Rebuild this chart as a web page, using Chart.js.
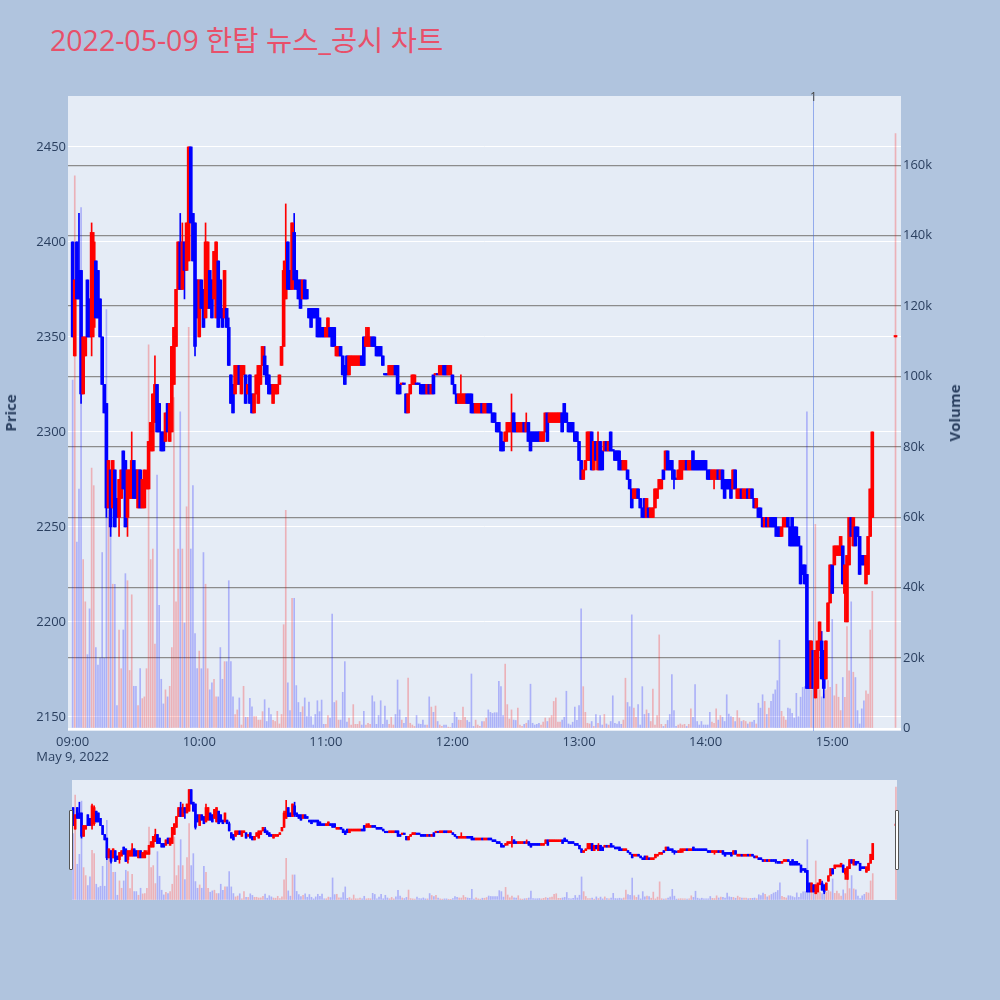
<!DOCTYPE html>
<html>
<head>
<meta charset="utf-8">
<script src="https://cdn.jsdelivr.net/npm/chart.js@4.4.1/dist/chart.umd.min.js"></script>
<style>
  html, body { margin: 0; padding: 0; background: #b0c4de; }
  #wrap { position: relative; width: 1000px; height: 1000px; overflow: hidden;
          font-family: "Open Sans", "Noto Sans CJK KR", sans-serif; }
  #title { position: absolute; left: 50px; top: 23px; line-height: 34px; font-size: 28.5px;
           color: #e8506a; white-space: nowrap; }
  #main { position: absolute; left: 0; top: 0; }
  #slider { position: absolute; left: 72px; top: 780px; background: #e5ecf6; }
  .ytitle { position: absolute; font-weight: bold; font-size: 15px; line-height: 18px; color: #2a3f5f;
            white-space: nowrap; transform: translate(-50%, -50%) rotate(-90deg); }
  .handle { position: absolute; top: 810px; width: 2px; height: 58px; background: #fff;
            border: 1px solid #555; border-radius: 1px; }
</style>
</head>
<body>
<div id="wrap">
  <div id="title">2022-05-09 한탑 뉴스_공시 차트</div>
  <canvas id="main" width="1000" height="772"></canvas>
  <div class="ytitle" style="left:10px; top:413px;">Price</div>
  <div class="ytitle" style="left:954px; top:413px;">Volume</div>
  <canvas id="slider" width="825" height="120"></canvas>
  <div class="handle" style="left:69px;"></div>
  <div class="handle" style="left:895px;"></div>
</div>
<script>
// ── Data: [open, high, low, close] per minute from 09:00 ─────────
const candles0900 = [
  [2400,2400,2350,2350],[2340,2380,2340,2380],[2400,2400,2370,2370],[2385,2415,2370,2370],[2385,2385,2315,2320],
  [2320,2350,2320,2350],[2340,2350,2340,2350],[2380,2380,2350,2350],[2370,2370,2350,2350],[2350,2410,2340,2405],
  [2355,2405,2350,2400],[2390,2390,2360,2360],[2385,2385,2360,2360],[2370,2370,2350,2350],[2350,2350,2325,2325],
  [2325,2325,2310,2310],[2315,2315,2255,2260],[2260,2285,2260,2285],[2280,2280,2245,2250],[2260,2285,2260,2285],
  [2280,2280,2250,2250],[2265,2265,2255,2255],[2255,2275,2245,2275],[2265,2280,2265,2280],[2290,2290,2270,2270],
  [2285,2285,2250,2250],[2255,2280,2245,2280],[2265,2280,2265,2280],[2265,2300,2265,2285],[2285,2285,2265,2265],
  [2280,2280,2265,2265],[2260,2280,2260,2280],[2280,2280,2260,2260],[2260,2275,2260,2275],[2260,2280,2260,2280],
  [2270,2280,2270,2275],[2270,2295,2270,2295],[2290,2305,2290,2305],[2290,2320,2290,2320],[2305,2340,2305,2325],
  [2325,2325,2300,2300],[2315,2315,2300,2300],[2300,2300,2290,2290],[2300,2300,2290,2290],[2295,2310,2295,2310],
  [2315,2315,2300,2300],[2295,2315,2295,2315],[2300,2345,2300,2345],[2325,2355,2325,2355],[2345,2375,2345,2375],
  [2375,2400,2375,2400],[2400,2415,2375,2375],[2375,2410,2375,2400],[2400,2400,2370,2385],[2385,2410,2385,2410],
  [2390,2450,2390,2450],[2450,2450,2410,2410],[2415,2415,2390,2390],[2410,2410,2340,2345],[2380,2380,2360,2360]
];
const candles1000 = [
  [2350,2380,2350,2380],[2380,2380,2365,2365],[2375,2375,2355,2355],[2360,2410,2360,2400],[2365,2400,2365,2400],
  [2385,2385,2365,2365],[2380,2380,2360,2360],[2370,2395,2370,2395],[2360,2400,2360,2400],[2390,2390,2355,2355],
  [2380,2380,2360,2360],[2365,2365,2355,2355],[2360,2385,2360,2385],[2365,2365,2355,2355],[2355,2360,2335,2335],
  [2330,2330,2315,2315],[2325,2325,2310,2310],[2320,2335,2320,2335],[2325,2335,2325,2335],[2335,2335,2325,2325],
  [2320,2335,2320,2335],[2330,2335,2330,2335],[2330,2330,2315,2315],[2320,2325,2320,2325],[2330,2330,2315,2315],
  [2320,2320,2310,2310],[2310,2320,2310,2320],[2320,2330,2320,2330],[2315,2335,2315,2335],[2325,2335,2325,2335],
  [2335,2345,2335,2345],[2340,2345,2330,2330],[2335,2335,2325,2325],[2330,2330,2320,2320],[2325,2325,2320,2320],
  [2315,2325,2315,2325],[2320,2325,2320,2325],[2320,2325,2320,2325],[2325,2330,2325,2330],[2335,2345,2335,2345],
  [2345,2390,2345,2385],[2370,2420,2370,2390],[2400,2400,2375,2375],[2385,2385,2375,2375],[2375,2410,2375,2410],
  [2405,2415,2375,2380],[2385,2385,2375,2375],[2380,2380,2370,2370],[2380,2380,2365,2365],[2370,2380,2370,2380],
  [2380,2380,2370,2370],[2375,2375,2370,2370],[2365,2365,2360,2360],[2365,2365,2355,2355],[2365,2365,2360,2360],
  [2365,2365,2360,2360],[2365,2365,2350,2350],[2360,2360,2350,2350],[2355,2355,2350,2350],[2355,2355,2350,2350]
];
const candles1100 = [
  [2350,2355,2350,2355],[2350,2360,2350,2360],[2355,2355,2350,2350],[2355,2355,2345,2345],[2355,2355,2345,2345],
  [2340,2345,2340,2345],[2340,2345,2340,2345],[2345,2345,2340,2340],[2340,2340,2330,2330],[2335,2335,2325,2325],
  [2340,2340,2330,2330],[2330,2340,2330,2340],[2335,2340,2335,2340],[2335,2340,2335,2340],[2335,2340,2335,2340],
  [2335,2340,2335,2340],[2335,2340,2335,2340],[2340,2340,2335,2335],[2350,2350,2335,2335],[2345,2355,2345,2350],
  [2345,2355,2345,2355],[2345,2350,2345,2350],[2350,2350,2345,2345],[2350,2350,2345,2345],[2345,2345,2340,2340],
  [2345,2345,2340,2340],[2345,2345,2340,2340],[2340,2340,2335,2335],[2330,2330,2330,2330],[2330,2330,2330,2330],
  [2330,2335,2330,2335],[2330,2335,2330,2335],[2330,2335,2330,2335],[2335,2335,2330,2330],[2335,2335,2320,2320],
  [2325,2325,2320,2320],[2325,2325,2325,2325],[2325,2325,2325,2325],[2320,2320,2310,2310],[2310,2320,2310,2320],
  [2320,2325,2320,2325],[2325,2330,2325,2330],[2325,2330,2325,2330],[2325,2325,2325,2325],[2325,2325,2325,2325],
  [2325,2325,2320,2320],[2325,2325,2320,2320],[2325,2325,2320,2320],[2320,2325,2320,2325],[2325,2325,2320,2320],
  [2320,2325,2320,2325],[2330,2330,2320,2320],[2330,2330,2330,2330],[2330,2330,2330,2330],[2330,2335,2330,2335],
  [2330,2335,2330,2335],[2335,2335,2330,2330],[2335,2335,2330,2330],[2330,2335,2330,2335],[2330,2335,2330,2335]
];
const candles1200 = [
  [2330,2330,2325,2325],[2325,2325,2320,2320],[2320,2320,2315,2315],[2315,2320,2315,2320],[2315,2330,2315,2320],
  [2315,2320,2315,2320],[2315,2320,2315,2320],[2320,2320,2315,2315],[2320,2320,2315,2315],[2320,2320,2310,2310],
  [2315,2315,2310,2310],[2310,2315,2310,2315],[2310,2315,2310,2315],[2310,2315,2310,2315],[2315,2315,2310,2310],
  [2310,2315,2310,2315],[2310,2315,2310,2315],[2315,2315,2310,2310],[2315,2315,2310,2310],[2310,2310,2305,2305],
  [2310,2310,2305,2305],[2305,2305,2300,2300],[2305,2305,2300,2300],[2300,2300,2290,2290],[2295,2295,2290,2290],
  [2295,2300,2295,2300],[2300,2305,2295,2305],[2300,2305,2300,2305],[2300,2320,2290,2305],[2310,2310,2300,2300],
  [2305,2305,2300,2300],[2300,2305,2300,2305],[2300,2305,2300,2305],[2300,2305,2300,2305],[2305,2305,2300,2300],
  [2300,2310,2300,2305],[2305,2305,2295,2295],[2300,2300,2290,2290],[2300,2300,2295,2295],[2300,2300,2295,2295],
  [2300,2300,2295,2295],[2300,2300,2295,2295],[2295,2300,2295,2300],[2295,2300,2295,2300],[2300,2310,2300,2310],
  [2310,2310,2295,2295],[2305,2310,2305,2310],[2305,2310,2305,2310],[2305,2310,2305,2310],[2305,2310,2305,2310],
  [2305,2310,2305,2310],[2305,2310,2305,2310],[2310,2310,2300,2300],[2315,2315,2305,2305],[2310,2310,2305,2305],
  [2305,2305,2300,2300],[2305,2305,2300,2300],[2305,2305,2300,2300],[2300,2300,2295,2295],[2300,2300,2295,2295]
];
const candles1300 = [
  [2295,2295,2285,2285],[2285,2285,2275,2275],[2275,2280,2275,2280],[2280,2285,2280,2285],[2285,2300,2285,2300],
  [2285,2300,2285,2300],[2300,2300,2280,2280],[2280,2295,2280,2295],[2295,2295,2285,2285],[2280,2300,2280,2295],
  [2295,2295,2280,2280],[2290,2290,2280,2280],[2290,2295,2290,2295],[2295,2295,2290,2290],[2290,2295,2290,2295],
  [2300,2300,2290,2290],[2290,2290,2290,2290],[2290,2290,2285,2285],[2290,2290,2285,2285],[2290,2290,2280,2280],
  [2285,2285,2280,2280],[2280,2285,2280,2285],[2280,2285,2280,2285],[2280,2280,2275,2275],[2275,2275,2270,2270],
  [2270,2270,2260,2260],[2265,2270,2265,2270],[2265,2270,2265,2270],[2270,2270,2265,2265],[2265,2265,2260,2260],
  [2260,2260,2255,2255],[2265,2265,2255,2255],[2255,2265,2255,2265],[2260,2260,2255,2255],[2255,2260,2255,2260],
  [2255,2260,2255,2260],[2260,2270,2260,2270],[2265,2270,2265,2270],[2270,2275,2270,2275],[2270,2275,2270,2275],
  [2280,2280,2275,2275],[2280,2290,2280,2290],[2290,2290,2280,2280],[2285,2285,2280,2280],[2285,2285,2275,2280],
  [2280,2280,2270,2275],[2275,2275,2275,2275],[2275,2280,2275,2280],[2275,2285,2275,2285],[2280,2285,2275,2285],
  [2280,2285,2280,2285],[2285,2285,2280,2280],[2280,2285,2280,2285],[2280,2285,2280,2285],[2290,2290,2280,2280],
  [2285,2285,2280,2280],[2285,2285,2280,2280],[2285,2285,2280,2280],[2285,2285,2280,2280],[2285,2285,2280,2280]
];
const candles1400 = [
  [2285,2285,2280,2280],[2280,2280,2275,2275],[2280,2280,2275,2275],[2275,2280,2275,2280],[2275,2280,2270,2280],
  [2275,2280,2275,2280],[2280,2280,2275,2275],[2275,2280,2275,2280],[2280,2280,2270,2270],[2275,2275,2265,2265],
  [2275,2275,2270,2270],[2275,2275,2270,2270],[2275,2275,2265,2265],[2270,2280,2270,2280],[2280,2280,2270,2270],
  [2265,2270,2265,2270],[2265,2270,2265,2270],[2270,2270,2265,2265],[2265,2270,2265,2270],[2265,2270,2265,2270],
  [2270,2270,2265,2265],[2265,2270,2265,2270],[2270,2270,2265,2265],[2265,2265,2260,2260],[2260,2265,2260,2265],
  [2260,2260,2255,2255],[2260,2260,2255,2255],[2255,2255,2250,2250],[2250,2255,2250,2255],[2255,2255,2250,2250],
  [2250,2255,2250,2255],[2255,2255,2250,2250],[2255,2255,2250,2250],[2255,2255,2245,2250],[2250,2250,2245,2245],
  [2250,2250,2245,2245],[2245,2250,2245,2250],[2250,2255,2250,2255],[2250,2255,2250,2255],[2255,2255,2250,2250],
  [2250,2250,2240,2240],[2255,2255,2240,2240],[2250,2250,2240,2240],[2250,2250,2240,2240],[2245,2245,2240,2240],
  [2240,2240,2220,2220],[2230,2230,2225,2225],[2230,2230,2220,2220],[2225,2225,2165,2165],[2190,2190,2165,2165],
  [2165,2190,2165,2190],[2185,2185,2165,2165],[2160,2185,2160,2185],[2165,2190,2165,2190],[2185,2200,2185,2200],
  [2190,2195,2170,2170],[2185,2185,2160,2165],[2170,2190,2170,2190],[2195,2210,2195,2210],[2210,2230,2210,2230]
];
const candles1500 = [
  [2230,2230,2215,2215],[2230,2240,2230,2240],[2235,2240,2235,2240],[2235,2240,2235,2240],[2235,2245,2235,2245],
  [2240,2240,2220,2220],[2215,2230,2200,2230],[2200,2235,2200,2235],[2230,2255,2230,2255],[2255,2255,2245,2245],
  [2240,2255,2240,2255],[2250,2250,2240,2240],[2250,2250,2245,2245],[2245,2245,2225,2225],[2235,2235,2230,2230],
  [2235,2235,2230,2230],[2220,2235,2220,2235],[2225,2245,2225,2245],[2245,2270,2245,2270],[2255,2300,2255,2300]
];
// 15:30 closing single-price auction
const closingMinute = 390;
const closingCandle = [2350, 2350, 2350, 2350];

// volume per minute, thousands of shares
const vol0900 = [
  99,157,53,68,148,48,36,21,34,74, 69,23,18,20,50,20,119,62,60,41,
  41,6.5,28,17,28,44,42,16.5,38,12, 12,6.5,17,8.5,9,17,109,48,51,24,
  72,35,14,7,11,9,12,23,94,36, 51,90,51,30,63,114,51,69,27,17
];
const vol1000 = [
  22,17,50,41,17,11,13,14,9,9, 23,14,19,19,42,19,9,4,5.3,8.7,
  1,12,3.2,3.2,8.6,6.2,3.4,3.4,2.4,2.4, 4.8,8.2,2,5.8,4,2.3,2,4.9,1.3,4,
  29.5,62,13,5.1,37,37,12.2,7.4,4.6,6.2, 8.7,3.4,7.5,3.4,1,4,7.9,4.8,8.1,1.2
];
const vol1100 = [
  1.2,3.7,3,32.5,7.4,7.9,2.4,2.4,10.3,19, 1.8,3,1,6.8,1.2,1.2,2,1,4.9,1,
  1.5,1.2,9.3,7.6,1.2,3.7,7.9,1.2,6.4,2.4, 1.2,3.2,1,4,13.8,5.3,2.4,1.5,3.2,14.3,
  1.5,1,0.6,3.7,1.3,1.2,2.4,1,1,9, 6.1,4.6,6.4,2,1,0.6,1,1,0.4,0.3
];
const vol1200 = [
  1.5,4.6,3.2,2.4,2.3,6.1,3.2,2.3,1.8,15.5, 0.6,2.4,1,0.6,2,2,3,5.3,4.6,4.3,
  4.5,4.5,13.4,11.9,3.7,18.3,6.8,2.7,5.3,2.4, 2.3,5.8,1,0.6,1.2,1.5,2.3,12.6,1.5,1,
  1.2,1.5,1,1.8,3,2,3,3.7,7.7,8.7, 1.8,1.8,2.4,3.2,10.6,1.3,1,1.8,6.1,2.3
];
const vol1300 = [
  6.5,34,11.9,4.6,1.5,1.3,2,0.6,4,1.5, 3.7,1,4,1.3,1,2,9.3,1.5,1.3,2,
  1.2,2.4,14.3,7.4,6.2,32.3,5.8,3.2,6.8,1, 11.9,4,5.3,4.3,2,11.2,1,3.7,26.6,1.2,
  0.6,1.2,2.3,4,15.3,5.1,0.6,1,1.3,1, 1.2,0.6,1.2,5.6,3.2,12.5,2,1,2,1
];
const vol1400 = [
  1,1,4.6,1.8,1.5,5.6,2.4,3.7,3.2,2, 9.6,4.1,3.4,3.2,2,5.1,3,2,2.3,2,
  1.3,1.8,1.8,2.3,1.3,7.2,5.8,9.6,7.7,4, 5.8,7.7,9.8,11,13.6,25.1,4.9,3.4,2.4,5.8,
  5.6,4.3,3,10,3.4,8.9,11.7,11.9,90,12, 11,12,58,12.6,11,9,9.8,11,13.6,11.7
];
const vol1500 = [
  31,9.3,12.6,8.9,5.1,14.5,8.9,29,16.4,36, 16,14.5,5.1,1.3,5.6,7.9,10.7,9.8,28,39
];
const volClosing = 169;

const priceTicks  = [2150, 2200, 2250, 2300, 2350, 2400, 2450];
const volumeTicks = [0, 20, 40, 60, 80, 100, 120, 140, 160];
const timeTicks   = [0, 60, 120, 180, 240, 300, 360];
const timeLabels  = ['09:00', '10:00', '11:00', '12:00', '13:00', '14:00', '15:00'];
const dateLabel   = 'May 9, 2022';
const newsMinutes = [351];
const newsLabels  = ['1'];

// ── Assemble ─────────────────────────────────────────────────────
const session = [].concat(candles0900, candles1000, candles1100, candles1200, candles1300, candles1400, candles1500);
const ohlc    = session.concat([closingCandle]);
const minutes = session.map((_, i) => i).concat([closingMinute]);
const volumes = [].concat(vol0900, vol1000, vol1100, vol1200, vol1300, vol1400, vol1500, [volClosing]);

const isUp = ohlc.map((c, i) => c[3] > c[0] || (c[3] === c[0] && i > 0 && c[3] > ohlc[i - 1][3]));
const UP = '#ff0000', DOWN = '#0000ff';
const UP_VOL = 'rgba(255,0,0,0.25)', DOWN_VOL = 'rgba(0,0,255,0.25)';

const PRICE_MIN = 2142.6, PRICE_MAX = 2476.8;
const VOL_MIN = -0.7, VOL_MAX = 179.7;

Chart.defaults.font.family = '"Open Sans", "Noto Sans CJK KR", sans-serif';
Chart.defaults.font.size = 13;
Chart.defaults.color = '#2a3f5f';

function makeDatasets(bodyW, wickW, volW) {
  return [
    {
      label: 'volume', yAxisID: 'y2', order: 3, grouped: false, barThickness: volW,
      data: volumes.map((v, i) => ({ x: minutes[i], y: v })),
      backgroundColor: isUp.map(u => u ? UP_VOL : DOWN_VOL)
    },
    {
      label: 'wick', yAxisID: 'y', order: 2, grouped: false, barThickness: wickW,
      data: ohlc.map((c, i) => ({ x: minutes[i], y: [c[2], c[1]] })),
      backgroundColor: isUp.map(u => u ? UP : DOWN)
    },
    {
      label: 'body', yAxisID: 'y', order: 1, grouped: false, barThickness: bodyW, minBarLength: 1.5,
      data: ohlc.map((c, i) => ({ x: minutes[i], y: [c[0], c[3]] })),
      backgroundColor: isUp.map(u => u ? UP : DOWN)
    }
  ];
}

const plotBg = {
  id: 'plotBg',
  beforeDraw(chart) {
    const { ctx, chartArea: a } = chart;
    ctx.save();
    ctx.fillStyle = '#e5ecf6';
    ctx.fillRect(a.left, a.top, a.right - a.left, a.bottom - a.top);
    ctx.restore();
  }
};

const newsLine = {
  id: 'newsLine',
  afterDatasetsDraw(chart) {
    const { ctx, chartArea: a, scales } = chart;
    ctx.save();
    newsMinutes.forEach((m, i) => {
      const x = Math.round(scales.x.getPixelForValue(m)) + 0.5;
      ctx.strokeStyle = 'rgba(65,105,225,0.5)';
      ctx.lineWidth = 1;
      ctx.beginPath();
      ctx.moveTo(x, a.top);
      ctx.lineTo(x, a.bottom);
      ctx.stroke();
      ctx.fillStyle = '#444';
      ctx.font = '12px "Open Sans", sans-serif';
      ctx.textAlign = 'center';
      ctx.textBaseline = 'middle';
      ctx.fillText(newsLabels[i], x, a.top + 2);
    });
    ctx.restore();
  }
};

// ── Main chart ───────────────────────────────────────────────────
new Chart(document.getElementById('main'), {
  type: 'bar',
  data: { datasets: makeDatasets(3, 1, 1) },
  options: {
    responsive: false, animation: false,
    layout: { padding: { top: 96, left: 0, right: 0, bottom: 0 }, autoPadding: false },
    plugins: { legend: { display: false }, tooltip: { enabled: false } },
    scales: {
      x: {
        type: 'linear', min: -2.2, max: 392.6, offset: false,
        grid: { display: false, drawTicks: false, offset: false }, border: { display: false },
        afterBuildTicks: s => { s.ticks = timeTicks.map(v => ({ value: v })); },
        afterFit: s => { s.height = 41; },
        ticks: {
          autoSkip: false, maxRotation: 0, padding: 3,
          callback: (v, i) => i === 0 ? [timeLabels[i], dateLabel] : timeLabels[i]
        }
      },
      y: {
        position: 'left', min: PRICE_MIN, max: PRICE_MAX,
        grid: { color: '#ffffff', lineWidth: 1, drawTicks: false }, border: { display: false },
        afterBuildTicks: s => { s.ticks = priceTicks.map(v => ({ value: v })); },
        afterFit: s => { s.width = 68; },
        ticks: { padding: 2, callback: v => String(v) }
      },
      y2: {
        position: 'right', min: VOL_MIN, max: VOL_MAX,
        grid: {
          drawTicks: false,
          color: c => c.tick && c.tick.value === 0 ? '#ffffff' : '#8c8c8c',
          lineWidth: c => c.tick && c.tick.value === 0 ? 2 : 1.3
        },
        border: { display: false },
        afterBuildTicks: s => { s.ticks = volumeTicks.map(v => ({ value: v })); },
        afterFit: s => { s.width = 99; },
        ticks: { padding: 2, callback: v => v === 0 ? '0' : v + 'k' }
      }
    }
  },
  plugins: [plotBg, newsLine]
});

// ── Range slider ─────────────────────────────────────────────────
new Chart(document.getElementById('slider'), {
  type: 'bar',
  data: { datasets: makeDatasets(2, 1, 1) },
  options: {
    responsive: false, animation: false,
    layout: { padding: 0, autoPadding: false },
    plugins: { legend: { display: false }, tooltip: { enabled: false } },
    scales: {
      x: { type: 'linear', min: -0.5, max: 390.5, offset: false, display: false },
      y: { min: PRICE_MIN, max: PRICE_MAX, display: false },
      y2: { position: 'right', min: VOL_MIN, max: VOL_MAX, display: false }
    }
  }
});
</script>
</body>
</html>
